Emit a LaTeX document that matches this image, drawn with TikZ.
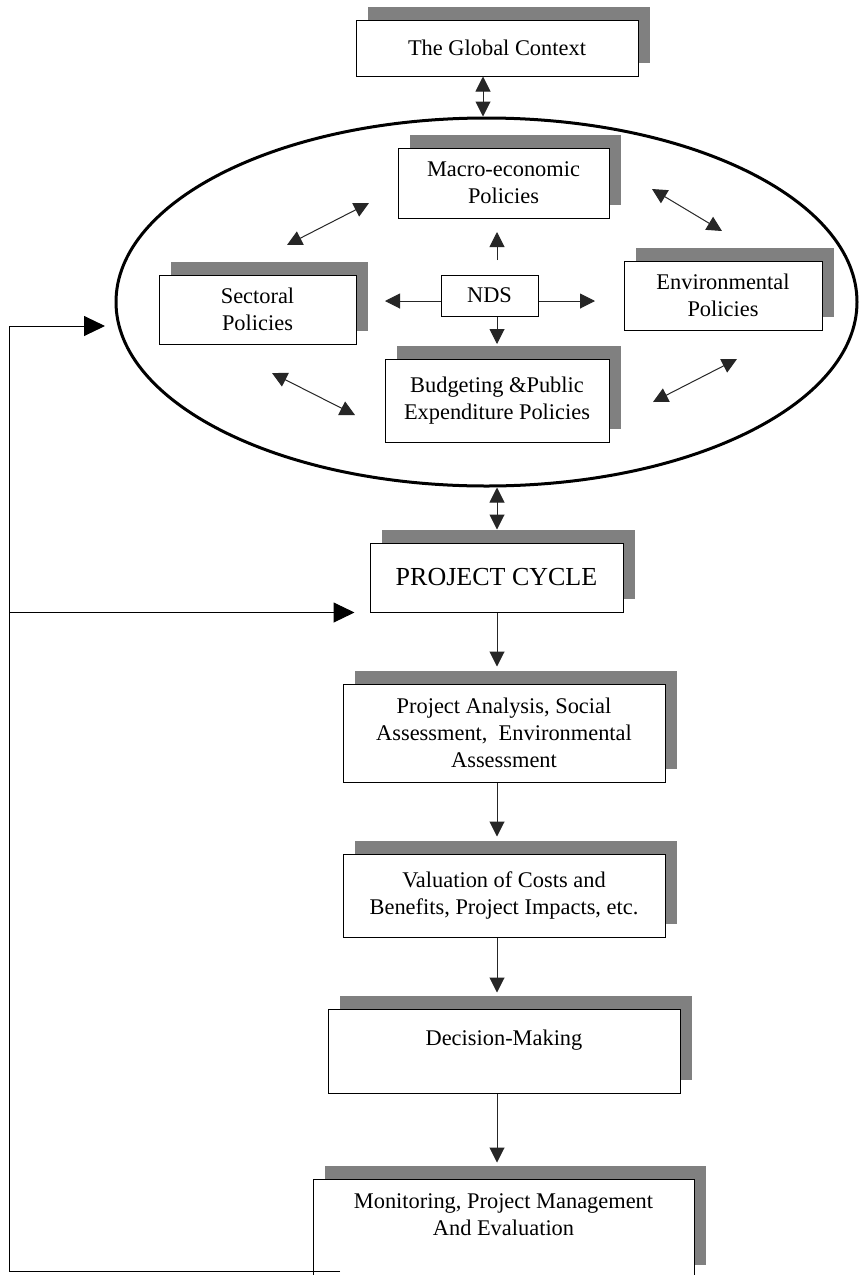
\documentclass[tikz,border=0pt]{standalone}
\usepackage{fontspec}
\setmainfont{Liberation Serif}
\usetikzlibrary{arrows.meta,shadows,shapes.geometric,calc}
\tikzset{
  box/.style={draw=black, line width=0.5pt, fill=white, align=center,
    inner sep=2pt, font=\fontsize{11.2}{13.5}\selectfont,
    drop shadow={shadow xshift=6pt, shadow yshift=6.5pt, fill=black!50, opacity=1}},
  plainbox/.style={draw=black, line width=0.5pt, fill=white, align=center,
    inner sep=2pt, font=\fontsize{11.2}{13.5}\selectfont},
  conn/.style={line width=0.5pt, draw=black!85},
  arr/.style={conn, -{Triangle[length=7.5pt,width=7.5pt]}},
  dbl/.style={conn, {Triangle[length=7.5pt,width=7.5pt]}-{Triangle[length=7.5pt,width=7.5pt]}},
  fb/.style={line width=0.5pt, draw=black, -{Triangle[length=10.5pt,width=10pt]}},
}
\begin{document}
\begin{tikzpicture}[x=0.5pt,y=-0.5pt]
\path[use as bounding box] (0,0) rectangle (859,1275);
\fill[white] (0,0) rectangle (859,1275);
\clip (0,0) rectangle (859,1275);

% ellipse
\node[draw, ellipse, line width=1.5pt, minimum width=370.5pt, minimum height=184pt, inner sep=0pt] (ell) at (486.5,302) {};

% boxes
\node[box, minimum width=141pt, minimum height=28pt] (global) at (497,48) {The Global Context};
\node[box, minimum width=105.5pt, minimum height=35pt] (macro) at (503.5,183) {Macro-economic\\Policies};
\node[box, minimum width=98.5pt, minimum height=34.5pt] (sect) at (257.5,309.5) {Sectoral\\Policies};
\node[plainbox, minimum width=48.5pt, minimum height=20.5pt] (nds) at (489.5,295.5) {NDS};
\node[box, minimum width=99pt, minimum height=34.5pt] (env) at (723,295.5) {Environmental\\Policies};
\node[box, minimum width=112pt, minimum height=41.5pt] (budget) at (497,400.5) {Budgeting \&Public\\Expenditure Policies};
\node[box, minimum width=126.5pt, minimum height=34.5pt, font=\fontsize{13}{15}\selectfont] (pc) at (496.5,577.5) {PROJECT CYCLE};
\node[box, minimum width=161pt, minimum height=49pt] (an) at (504,733) {Project Analysis, Social\\Assessment, \ Environmental\\Assessment};
\node[box, minimum width=161pt, minimum height=41.5pt] (val) at (504,895.5) {Valuation of Costs and\\Benefits, Project Impacts, etc.};
\node[box, minimum width=176pt, minimum height=42pt] (dm) at (504,1051) {Decision-Making\\~};
\node[box, minimum width=190.5pt, minimum height=49.5pt] (mon) at (503.5,1228.5) {Monitoring, Project Management\\And Evaluation\\~};

% global <-> ellipse
\draw[dbl] (global.south -| 483,0) -- (ell.north -| 483,0);
% ellipse <-> project cycle
\coordinate (ax) at (497,0);
\draw[dbl] (ell.south -| ax) -- ($(ax |- pc.north)+(0,-13)$);

% NDS arrows
\coordinate (nL) at (385,301);
\coordinate (nR) at (595,301);
\coordinate (nU0) at (497,260);
\coordinate (nU) at (497,232);
\coordinate (nD) at (497,344);
\draw[arr] (nds.west |- nL) -- (nL);
\draw[arr] (nds.east |- nR) -- (nR);
\draw[arr] (nU0) -- (nU);
\draw[arr] (nds.south -| nD) -- (nD);

% diagonal double arrows
\coordinate (d1a) at (287,245); \coordinate (d1b) at (369,203);
\coordinate (d2a) at (272,373); \coordinate (d2b) at (355,415);
\coordinate (d3a) at (652,189); \coordinate (d3b) at (722,231);
\coordinate (d4a) at (653,402); \coordinate (d4b) at (737,359);
\draw[dbl] (d1a) -- (d1b);
\draw[dbl] (d2a) -- (d2b);
\draw[dbl] (d3a) -- (d3b);
\draw[dbl] (d4a) -- (d4b);

% project cycle chain
\draw[arr] (pc.south -| ax) -- ($(ax |- an.north)+(0,-17)$);
\draw[arr] (an.south -| ax) -- ($(ax |- val.north)+(0,-17)$);
\draw[arr] (val.south -| ax) -- ($(ax |- dm.north)+(0,-16)$);
\draw[arr] (dm.south -| ax) -- ($(ax |- mon.north)+(0,-16)$);

% feedback loop
\coordinate (fbA) at (340,1271);
\coordinate (fbB) at (9,1271);
\coordinate (fbC) at (9,326);
\coordinate (fbT) at (105,326);
\draw[fb] (fbA) -- (fbB) -- (fbC) -- (fbT);
\draw[fb] (fbB |- pc.south) -- ($(pc.south west)+(-15,0)$);
\end{tikzpicture}
\end{document}
